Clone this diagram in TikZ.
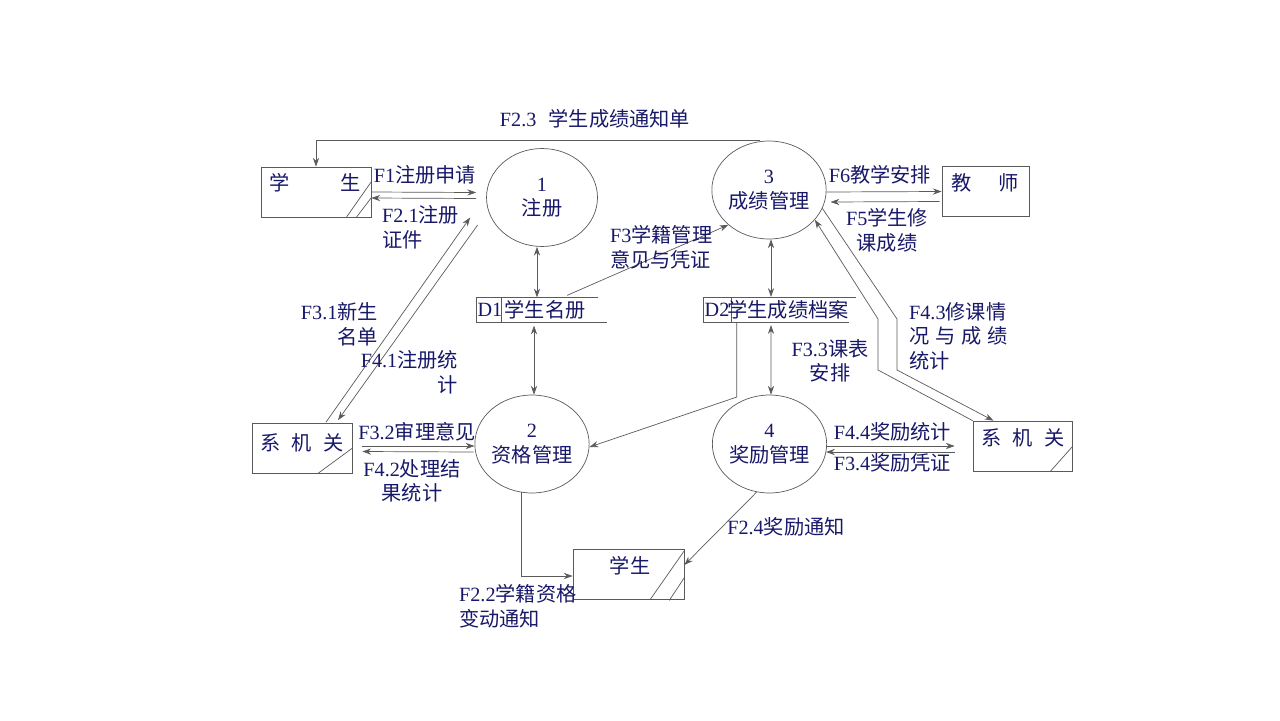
\documentclass[tikz,border=0pt]{standalone}
\usepackage{fontspec}
\setmainfont{Noto Sans CJK SC}
\newfontfamily\lat{Liberation Serif}
\usetikzlibrary{arrows.meta,shapes.geometric}
\definecolor{ink}{RGB}{24,24,105}
\definecolor{wire}{RGB}{90,90,90}
\newcommand\dfdfont{\fontsize{11.5}{14}\selectfont}

\begin{document}
\begin{tikzpicture}[
  x=0.02cm, y=-0.02cm,
  proc/.style  = {draw=wire, thin, ellipse, inner sep=0pt, minimum width=22.2mm,
                  minimum height=19.6mm, align=center, text=ink, font=\dfdfont},
  ent/.style   = {draw=wire, thin, inner sep=0pt, minimum height=10mm},
  store/.style = {inner sep=0pt, minimum height=4.9mm},
  edge/.style  = {draw=wire, thin},
  arrow/.style = {draw=wire, thin, -{Stealth[length=5pt,width=3.5pt]}},
  dbl/.style   = {draw=wire, thin, {Stealth[length=5pt,width=3.5pt]}-{Stealth[length=5pt,width=3.5pt]}},
  lbl/.style   = {text=ink, font=\dfdfont, inner sep=1pt, align=center},
]
  \useasboundingbox (0,0) rectangle (1280,720);

  % processes
  \node[proc] (p1) at (542,197.5) {{\lat 1}\\注册};
  \node[proc] (p3) at (769,190) {{\lat 3}\\成绩管理};
  \node[proc] (p2) at (532,444) {{\lat 2}\\资格管理};
  \node[proc] (p4) at (769.5,444) {{\lat 4}\\奖励管理};

  % external entities
  \node[ent, minimum width=22mm] (stu) at (316,192) {};
  \node[ent, minimum width=17.4mm] (tea) at (985.5,191.5) {};
  \node[ent, minimum width=20mm] (sysL) at (302,448.5) {};
  \node[ent, minimum width=19.8mm] (sysR) at (1022.5,446) {};
  \node[ent, minimum width=22.2mm] (stu2) at (628.5,574) {};

  \node[lbl] (stu-t) at (315,183) {学\hspace{2.5em}生};
  \node[lbl] (tea-t) at (985,183) {教\hspace{1.3em}师};
  \node[lbl] (sysL-t) at (302,443) {系\hspace{.55em}机\hspace{.55em}关};
  \node[lbl] (sysR-t) at (1023,438) {系\hspace{.55em}机\hspace{.55em}关};
  \node[lbl] (stu2-t) at (630,566) {学生};

  \draw[edge] ([shift={(0,15)}]stu.north east) -- ([shift={(-25,0)}]stu.south east);
  \draw[edge] ([shift={(0,31)}]stu.north east) -- ([shift={(-15,0)}]stu.south east);
  \draw[edge] ([shift={(0,25)}]sysL.north east) -- ([shift={(-35,0)}]sysL.south east);
  \draw[edge] ([shift={(0,26)}]sysR.north east) -- ([shift={(-22,0)}]sysR.south east);
  \draw[edge] ([shift={(0,2)}]stu2.north east) -- ([shift={(-34,0)}]stu2.south east);
  \draw[edge] ([shift={(0,29)}]stu2.north east) -- ([shift={(-15,1)}]stu2.south east);

  % data stores
  \node[store, minimum width=26mm] (d1) at (542,310) {};
  \draw[edge] ([shift={(-9,0)}]d1.north east) -- (d1.north west) -- (d1.south west) -- (d1.south east);
  \draw[edge] ([shift={(25,0)}]d1.north west) -- ([shift={(25,0)}]d1.south west);
  \node[lbl] (d1-id) at (490,310) {\lat D1};
  \node[lbl] (d1-t) at (545,310) {学生名册};

  \node[store, minimum width=30.4mm] (d2) at (780,309.5) {};
  \draw[edge] (d2.north east) -- (d2.north west) -- (d2.south west) -- ([shift={(-7,0)}]d2.south east);
  \draw[edge] ([shift={(27.5,0)}]d2.north west) -- ([shift={(27.5,0)}]d2.south west);
  \node[lbl] (d2-id) at (717,310) {\lat D2};
  \node[lbl] (d2-t) at (788,310) {学生成绩档案};

  % flows
  \draw[arrow] ([shift={(-9,0)}]p3.north) -| (stu.north);
  \draw[arrow] ([shift={(0,0)}]stu.east) -- ([shift={(-10,-5)}]p1.west);
  \draw[arrow] ([shift={(-10,1)}]p1.west) -- ([shift={(0,6)}]stu.east);
  \draw[arrow] ([shift={(0,2)}]p3.east) -- (tea.west);
  \draw[arrow] ([shift={(-2,10)}]tea.west) -- ([shift={(4,12)}]p3.east);
  \draw[dbl] ([shift={(-5,0)}]p1.south) -- ([shift={(-5,0)}]d1.north);
  \draw[dbl] ([shift={(-8,3)}]d1.south) -- ([shift={(2,0)}]p2.north);
  \draw[arrow] ([shift={(25,-2)}]d1.north) -- (p3.south west);
  \draw[dbl] ([shift={(2,0)}]p3.south) -- ([shift={(-9,0)}]d2.north);
  \draw[dbl] ([shift={(-9,3)}]d2.south) -- ([shift={(1.5,0)}]p4.north);
  \draw[arrow] ([shift={(33,0)}]d2.south west) -- ++(0,75) -- ([shift={(0,3)}]p2.east);
  \draw[arrow] (sysR.north west) -- (878,370) -- (878,319) -- (p3.-33);
  \draw[arrow] (p3.-19) -- (897,319) -- (897,370) -- ([shift={(-29,0)}]sysR.north);
  \draw[arrow] ([shift={(0,2)}]p4.east) -- ([shift={(-18,0)}]sysR.west);
  \draw[arrow] ([shift={(-18,6)}]sysR.west) -- ([shift={(-1,8)}]p4.east);
  \draw[arrow] ([shift={(10,-2.5)}]sysL.east) -- ([shift={(0,2)}]p2.west);
  \draw[arrow] ([shift={(-1,8)}]p2.west) -- ([shift={(10,3)}]sysL.east);
  \draw[arrow] ([shift={(24,-1)}]sysL.north) -- ([shift={(-16,20)}]p1.west);
  \draw[arrow] ([shift={(-8.5,27.5)}]p1.west) -- ([shift={(36,-3)}]sysL.north);
  \draw[arrow] ([shift={(-11,-1)}]p2.south) |- ([shift={(0,2)}]stu2.west);
  \draw[arrow] (p4.-105) -- ([shift={(0,-9)}]stu2.east);

  % flow labels
  \node[lbl] (f23) at (595,119) {{\lat F2.3}\hspace{.6em}学生成绩通知单};
  \node[lbl] (f1) at (425,175) {{\lat F1}注册申请};
  \node[lbl, anchor=west, align=left] (f21) at (380,227.5) {{\lat F2.1}注册\\证件};
  \node[lbl] (f6) at (880,175) {{\lat F6}教学安排};
  \node[lbl] (f5) at (887,230.5) {{\lat F5}学生修\\课成绩};
  \node[lbl, anchor=west, align=left] (f3) at (608,247.5) {{\lat F3}学籍管理\\意见与凭证};
  \node[lbl, anchor=east, align=right] (f31) at (380,324) {{\lat F3.1}新生\\名单};
  \node[lbl, anchor=east, align=right] (f41) at (460,372.5) {{\lat F4.1}注册统\\计};
  \node[lbl] (f33) at (830,361) {{\lat F3.3}课表\\安排};
  \node[lbl, anchor=west, align=left] (f43) at (907,336) {{\lat F4.3}修课情\\况\hspace{.3em}与\hspace{.3em}成\hspace{.3em}绩\\统计};
  \node[lbl] (f32) at (417,432) {{\lat F3.2}审理意见};
  \node[lbl] (f42) at (412,481) {{\lat F4.2}处理结\\果统计};
  \node[lbl] (f44) at (892.5,432) {{\lat F4.4}奖励统计};
  \node[lbl] (f34) at (892.5,463) {{\lat F3.4}奖励凭证};
  \node[lbl] (f24) at (786,527) {{\lat F2.4}奖励通知};
  \node[lbl, anchor=west, align=left] (f22) at (457,606.5) {{\lat F2.2}学籍资格\\变动通知};
\end{tikzpicture}
\end{document}
